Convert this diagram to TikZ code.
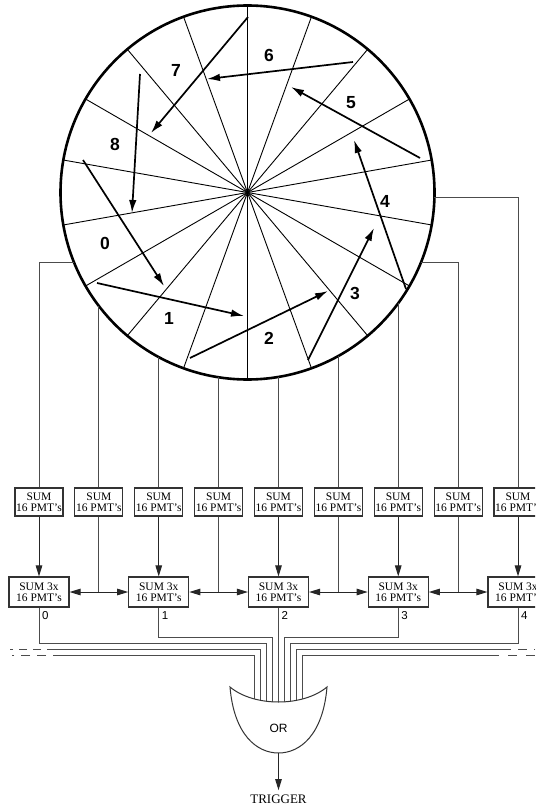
\documentclass[tikz,border=0pt]{standalone}
\usepackage{fontspec}
\setmainfont{Liberation Serif}
\setsansfont{Liberation Sans}
\usetikzlibrary{positioning,calc,arrows.meta}

\tikzset{
  rim/.style={line width=2.6pt},
  spoke/.style={line width=0.9pt},
  track/.style={line width=1.7pt,-{Latex[length=13pt,width=7.5pt]}},
  wire/.style={line width=1pt,black!70},
  feed/.style={line width=1pt,black!85,-{Triangle[length=11pt,width=6.5pt]}},
  sumbox/.style={draw=black!80,line width=1.1pt,minimum width=48pt,minimum height=28pt,
    inner sep=0pt,align=center,font=\fontsize{11.5}{11}\selectfont},
  sum3box/.style={sumbox,minimum width=60pt,minimum height=30pt},
  sector/.style={font=\sffamily\bfseries\fontsize{17.5}{17.5}\selectfont},
  outlabel/.style={anchor=north west,inner sep=0pt,font=\sffamily\fontsize{11.5}{11.5}\selectfont},
}

\begin{document}
\begin{tikzpicture}[x=1pt,y=-1pt]
\useasboundingbox (0,0) rectangle (535,805);
\clip (0,0) rectangle (535,805);

% wheel of 18 sectors
\coordinate (c) at (247.5,192.5);
\foreach \a in {10,30,...,350}
  \draw[spoke] (c) -- +(\a:187);
\draw[rim] (c) circle[radius=187pt];

\foreach \n/\x/\y in {0/105/243,1/169/318,2/269/338,3/355/293,4/385/201,
                      5/351/103,6/269/55,7/176/70,8/115/144}
  \node[sector] (n\n) at (\x,\y) {\n};

% tracks
\foreach \n/\xa/\ya/\xb/\yb in {0/83/160/164/286, 1/97/283/244/316, 2/190/358/328/291,
    3/308/360/374/228, 4/406/289/354/140, 5/420/158/291/87, 6/353/62/207/79,
    7/248/17/151/133, 8/140/74/132/213}{
  \coordinate (a\n) at (\xa,\ya);
  \coordinate (b\n) at (\xb,\yb);
  \draw[track] (a\n) -- (b\n);
}

% sums
\foreach \k in {0,...,8}
  \node[sumbox] (s\k) at ({39+59.875*\k},502) {SUM\\16 PMT's};
\foreach \j in {0,...,4}
  \node[sum3box] (t\j) at ({39+119.75*\j},592) {SUM 3x\\16 PMT's};

% pickups on the rim
\foreach \k in {1,...,6}{
  \coordinate (p\k) at ($(c)+({acos((39+59.875*\k-247.5)/187)}:187)$);
  \draw[wire] (p\k) -- (p\k |- s\k.north);
}
\coordinate (p0) at ($(c)+(158:187)$);
\coordinate (p7) at ($(c)+(22:187)$);
\coordinate (p8) at ($(c)+(1.4:187)$);
\foreach \k in {0,7,8}
  \draw[wire] (p\k) -| (s\k.north);

\foreach \j [evaluate=\j as \k using int(2*\j)] in {0,...,4}
  \draw[feed] (s\k.south) -- (t\j.north);
\foreach \j [evaluate=\j as \k using int(2*\j+1), evaluate=\j as \m using int(\j+1)] in {0,...,3}{
  \coordinate (j\k) at (s\k.south |- t\j.east);
  \draw[wire] (s\k.south) -- (j\k);
  \draw[feed] (j\k) -- (t\j.east);
  \draw[feed] (j\k) -- (t\m.west);
}

\foreach \j in {0,...,4}
  \node[outlabel] (o\j) at ($(t\j.south)+(3,4)$) {\j};

% bus into the OR
\foreach \i in {1,...,4}{
  \coordinate (gl\i) at ({278.5-6*\i},712);
  \coordinate (gr\i) at ({278.5+6*\i},712);
}
\coordinate (gm) at (278.5,712);
\draw[wire] (t2.south) -- (gm);
\draw[wire] (t1.south) -- ++(0,30) -| (gl1);
\draw[wire] (t0.south) -- ++(0,36) -| (gl2);
\draw[wire] (t3.south) -- ++(0,30) -| (gr1);
\draw[wire] (t4.south) -- ++(0,36) -| (gr2);
\coordinate (el3) at (55,649);
\coordinate (el4) at (62,655);
\coordinate (er3) at (502,649);
\coordinate (er4) at (490,655);
\draw[wire] (el3) -| (gl3);
\draw[wire] (el4) -| (gl4);
\draw[wire] (er3) -| (gr3);
\draw[wire] (er4) -| (gr4);
\draw[wire,dash pattern=on 8pt off 6pt] (el3) -- (10,649);
\draw[wire,dash pattern=on 9pt off 7pt] (el4) -- (12,655);
\draw[wire,dash pattern=on 9pt off 7pt] (er3) -- (535,649);
\draw[wire,dash pattern=on 9pt off 9pt] (er4) -- (535,655);

% OR gate
\draw[line width=1pt,black!80,fill=white] (230,687) .. controls (254,707) and (303,707) .. (327,687)
  .. controls (323,735) and (300,753) .. (278.5,753)
  .. controls (257,753) and (234,735) .. (230,687) -- cycle;
\node[font=\sffamily\fontsize{12}{12}\selectfont] (or) at (278.5,728) {OR};
\coordinate (g) at (278.5,753);
\node[anchor=base,inner sep=4pt,font=\fontsize{13}{13}\selectfont] (trig) at (278.5,803) {TRIGGER};
\draw[feed] (g) -- (trig.north);
\end{tikzpicture}
\end{document}
